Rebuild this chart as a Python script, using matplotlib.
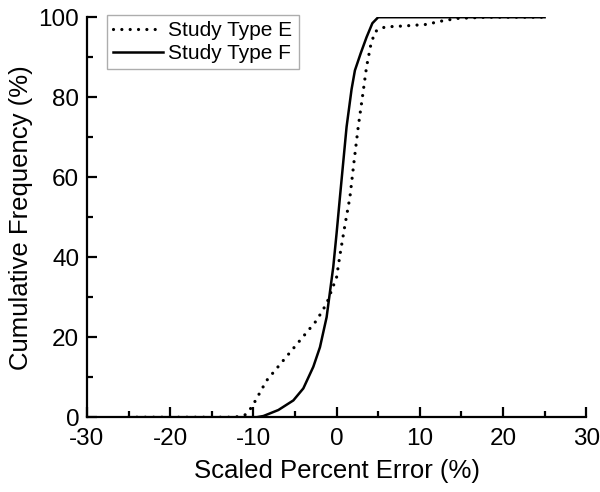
import matplotlib.pyplot as plt
from matplotlib.ticker import MultipleLocator

plt.rcParams['font.family'] = ['Liberation Sans', 'DejaVu Sans']
plt.rcParams['axes.unicode_minus'] = False

# Study Type E (dotted)
e_x = [-25, -13, -12, -11, -10.2, -8.4, -6.4, -4.4, -2.4, -1.2, 0, 0.4, 1.0, 1.6, 2.1, 2.6,
       3.1, 3.6, 4.1, 4.6, 5.2, 6.0, 8.0, 10.8, 12.5, 14.5, 18, 25]
e_y = [0, 0, 0.1, 0.6, 2.5, 9.2, 14.2, 19.2, 24.2, 28.4, 35, 40.5, 48, 55, 64, 72.6,
       80, 87.6, 93, 96.3, 97.2, 97.6, 97.8, 98.2, 99, 99.7, 100, 100]

# Study Type F (solid)
f_x = [-25, -9.6, -8.8, -7, -5.2, -4, -2.8, -2, -1.2, -0.4, 0, 0.4, 1.2, 1.8, 2.2, 2.9,
       3.6, 4.3, 5, 10, 25]
f_y = [0, 0, 0.3, 1.8, 4.2, 7.2, 12.6, 17.5, 25, 37.6, 46, 55, 72.6, 82, 86.7, 91,
       95, 98.5, 100, 100, 100]

fig = plt.figure(figsize=(6, 4.92), dpi=100)
ax = fig.add_axes([0.145, 0.152, 0.832, 0.813])

ax.plot(e_x, e_y, color='black', lw=2.3, linestyle=(0, (0.01, 2.6)),
        dash_capstyle='round', solid_joinstyle='round', label='Study Type E')
ax.plot(f_x, f_y, color='black', lw=1.8, label='Study Type F')

ax.set_xlim(-30, 30)
ax.set_ylim(0, 100)
ax.xaxis.set_major_locator(MultipleLocator(10))
ax.xaxis.set_minor_locator(MultipleLocator(5))
ax.yaxis.set_major_locator(MultipleLocator(20))
ax.yaxis.set_minor_locator(MultipleLocator(10))

for side in ('top', 'right'):
    ax.spines[side].set_visible(False)
for side in ('left', 'bottom'):
    ax.spines[side].set_linewidth(1.6)

ax.tick_params(which='both', direction='in', width=1.6, labelsize=17.5)
ax.tick_params(which='major', length=7)
ax.tick_params(axis='x', which='major', pad=8)
ax.tick_params(axis='y', which='major', pad=5.5)
ax.tick_params(which='minor', length=4)

ax.set_xlabel('Scaled Percent Error (%)', fontsize=18.5, labelpad=6)
ax.set_ylabel('Cumulative Frequency (%)', fontsize=18.5, labelpad=4)

leg = ax.legend(loc='upper left', fontsize=15, frameon=True, fancybox=False,
                handlelength=2.4, handletextpad=0.25, borderpad=0.3,
                labelspacing=0.2, borderaxespad=0.0, bbox_to_anchor=(0.04, 1.006))
leg.get_frame().set_edgecolor('#999999')
leg.get_frame().set_linewidth(1.0)

fig.savefig('out.png', dpi=100)
